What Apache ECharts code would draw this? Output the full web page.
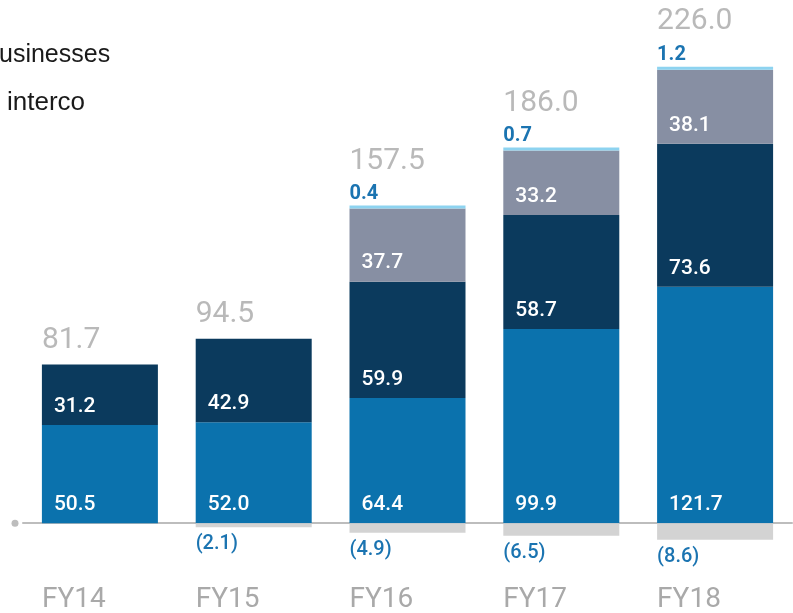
<!DOCTYPE html>
<html>
<head>
<meta charset="utf-8">
<script src="https://cdn.jsdelivr.net/npm/echarts@6/dist/echarts.min.js"></script>
<style>
  html, body { margin: 0; padding: 0; background: #fff; }
  #chart { width: 793px; height: 613px; }
</style>
</head>
<body>
<div id="chart"></div>
<script>
  // data
  const categories = ['FY14', 'FY15', 'FY16', 'FY17', 'FY18']
  const coreValues = [50.5, 52.0, 64.4, 99.9, 121.7]
  const secondValues = [31.2, 42.9, 59.9, 58.7, 73.6]
  const thirdValues = [null, null, 37.7, 33.2, 38.1]
  const smallValues = [null, null, 0.4, 0.7, 1.2]
  const intercoValues = [null, -2.1, -4.9, -6.5, -8.6]
  const totals = [81.7, 94.5, 157.5, 186.0, 226.0]
  const legendTexts = ['usinesses', 'interco']

  const font = 'Roboto, "DejaVu Sans", sans-serif'
  const barW = 116

  // top of the positive stack, where the total label sits
  const stackTops = categories.map((c, i) =>
    [coreValues, secondValues, thirdValues, smallValues]
      .reduce((s, arr) => s + (arr[i] || 0), 0))

  const insideLabel = {
    show: true,
    position: 'insideBottomLeft',
    distance: 8,
    offset: [4, 0],
    color: '#fff',
    fontFamily: font,
    fontSize: 21,
    fontWeight: 500,
    formatter: p => p.value.toFixed(1)
  }

  const chart = echarts.init(document.getElementById('chart'))
  chart.setOption({
    animation: false,
    grid: { left: 23, right: 1, top: 57, bottom: 51, outerBoundsMode: 'none', containLabel: false },
    xAxis: {
      type: 'category',
      data: categories,
      axisTick: { show: false },
      axisLine: {
        lineStyle: { color: '#bdbdbd', width: 2 },
        symbol: ['circle', 'none'],
        symbolSize: [7, 7],
        symbolOffset: [-8, 0]
      },
      axisLabel: {
        margin: 24,
        align: 'center',
        formatter: v => '{a|' + v + '}',
        rich: {
          a: { width: barW, align: 'left', fontFamily: font, fontSize: 28, color: '#a9a9a9' }
        }
      }
    },
    yAxis: {
      type: 'value',
      min: -20,
      max: 240,
      show: false
    },
    graphic: [
      {
        type: 'text', left: -1, top: 43,
        style: { text: legendTexts[0], font: '25px "Liberation Sans", Arial, sans-serif', fill: '#1a1a1a' }
      },
      {
        type: 'text', left: 7, top: 90,
        style: { text: legendTexts[1], font: '26px "Liberation Sans", Arial, sans-serif', fill: '#1a1a1a' }
      }
    ],
    series: [
      {
        name: 'core', type: 'bar', stack: 'a', barWidth: barW,
        itemStyle: { color: '#0b72ad' },
        label: insideLabel,
        data: coreValues
      },
      {
        name: 'second', type: 'bar', stack: 'a', barWidth: barW,
        itemStyle: { color: '#0b3a5d' },
        label: insideLabel,
        data: secondValues
      },
      {
        name: 'third', type: 'bar', stack: 'a', barWidth: barW,
        itemStyle: { color: '#878fa3' },
        label: insideLabel,
        data: thirdValues
      },
      {
        name: 'small', type: 'bar', stack: 'a', barWidth: barW, barMinHeight: 3,
        itemStyle: { color: '#8dd3f0' },
        label: {
          show: true,
          position: [0, -2],
          align: 'left',
          verticalAlign: 'bottom',
          color: '#1b74b1',
          fontFamily: font,
          fontSize: 20,
          fontWeight: 'bold',
          formatter: p => p.value.toFixed(1)
        },
        data: smallValues
      },
      {
        name: 'interco', type: 'bar', stack: 'a', barWidth: barW,
        itemStyle: { color: '#d3d3d3' },
        label: {
          show: true,
          position: [0, '100%'],
          offset: [0, 7],
          align: 'left',
          verticalAlign: 'top',
          color: '#1b74b1',
          fontFamily: font,
          fontSize: 20,
          fontWeight: 500,
          formatter: p => '(' + Math.abs(p.value).toFixed(1) + ')'
        },
        data: intercoValues
      },
      {
        name: 'total', type: 'scatter', symbolSize: 0, silent: true,
        label: {
          show: true,
          position: 'top',
          align: 'left',
          verticalAlign: 'bottom',
          color: '#a8a8a8',
          fontFamily: font,
          fontSize: 30,
          formatter: p => totals[p.dataIndex].toFixed(1)
        },
        data: stackTops.map((v, i) => ({
          value: v,
          label: { offset: [-barW / 2, smallValues[i] ? -26 : -4] }
        }))
      }
    ]
  })
</script>
</body>
</html>
